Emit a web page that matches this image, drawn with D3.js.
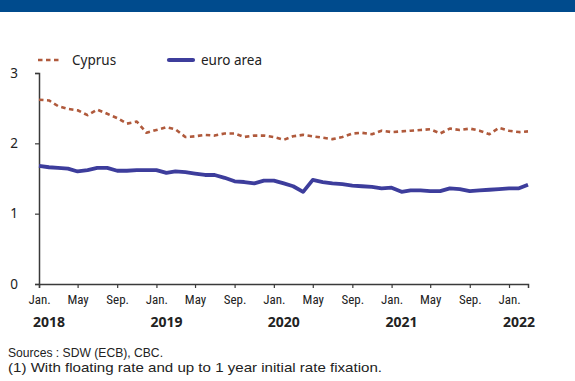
<!DOCTYPE html>
<html>
<head>
<meta charset="utf-8">
<script src="https://cdn.jsdelivr.net/npm/d3@7/dist/d3.min.js"></script>
<style>
  html, body { margin: 0; padding: 0; background: #fff; }
  svg { display: block; }
</style>
</head>
<body>
<svg id="chart" width="575" height="381"></svg>
<script>
// Monthly observations, Jan. 2018 – Mar. 2022 (%)
const months = d3.range(51).map(i => new Date(2018, i, 1));
const cyprus = [
  2.62, 2.61, 2.53, 2.49, 2.47, 2.40, 2.48, 2.42, 2.36, 2.28, 2.31, 2.15,
  2.19, 2.23, 2.20, 2.09, 2.10, 2.12, 2.11, 2.14, 2.14, 2.09, 2.11, 2.11,
  2.09, 2.05, 2.10, 2.12, 2.10, 2.08, 2.06, 2.09, 2.14, 2.15, 2.13, 2.18,
  2.16, 2.17, 2.18, 2.19, 2.20, 2.14, 2.21, 2.19, 2.21, 2.18, 2.13, 2.22,
  2.18, 2.16, 2.17
];
const euroArea = [
  1.68, 1.66, 1.65, 1.64, 1.60, 1.62, 1.65, 1.65, 1.61, 1.61, 1.62, 1.62,
  1.62, 1.58, 1.60, 1.59, 1.57, 1.55, 1.55, 1.51, 1.46, 1.45, 1.43, 1.47,
  1.47, 1.43, 1.39, 1.31, 1.48, 1.45, 1.43, 1.42, 1.40, 1.39, 1.38, 1.36,
  1.37, 1.31, 1.33, 1.33, 1.32, 1.32, 1.36, 1.35, 1.32, 1.33, 1.34, 1.35,
  1.36, 1.36, 1.41
];
const yTicks = [0, 1, 2, 3];
const monthTickLabels = ["Jan.", "May", "Sep."];
const yearLabels = ["2018", "2019", "2020", "2021", "2022"];
const seriesNames = ["Cyprus", "euro area"];
const notes = [
  "Sources : SDW (ECB), CBC.",
  "(1) With floating rate and up to 1 year initial rate fixation."
];

const svg = d3.select("#chart");
const colCyprus = "#b05a3c";
const colEuro = "#3d3d9c";
const axisCol = "#3a3a3a";
const condensed = "'Liberation Sans Narrow', 'Roboto Condensed', 'Noto Sans', sans-serif";
const body = "'Noto Sans', 'Open Sans', sans-serif";
const plain = "'Liberation Sans', Arial, sans-serif";

// header band
svg.append("rect").attr("x", 0).attr("y", 0).attr("width", 575).attr("height", 12)
  .attr("fill", "#004b8d");

const x = d3.scaleTime()
  .domain([new Date(2018, 0, 1), new Date(2022, 2, 1)])
  .range([39, 528]);
const y = d3.scaleLinear().domain([0, 3]).range([284, 73]);

// y axis
const yAxis = svg.append("g").attr("transform", "translate(39,0)")
  .call(d3.axisLeft(y).tickValues(yTicks).tickFormat(d3.format("d")).tickSizeOuter(0).tickSize(4).tickPadding(17));
yAxis.select(".domain").attr("stroke", axisCol).attr("stroke-width", 1.5);
yAxis.selectAll(".tick line").attr("stroke", axisCol).attr("stroke-width", 1.2);
yAxis.selectAll(".tick text").attr("font-family", body).attr("font-size", 13.5).attr("fill", "#222");

// x axis: Jan., May, Sep. ticks
const tickDates = months.filter(d => d.getMonth() % 4 === 0);
const xAxis = svg.append("g").attr("transform", "translate(0,284)")
  .call(d3.axisBottom(x).tickValues(tickDates)
    .tickFormat(d => monthTickLabels[d.getMonth() / 4])
    .tickSizeOuter(0).tickSize(4).tickPadding(7));
xAxis.select(".domain").attr("stroke", axisCol).attr("stroke-width", 1.5);
xAxis.selectAll(".tick line").attr("stroke", axisCol).attr("stroke-width", 1.2);
xAxis.selectAll(".tick text").attr("font-family", condensed).attr("font-size", 13).attr("fill", "#222");

// year labels
svg.append("g").selectAll("text").data(yearLabels).join("text")
  .attr("x", d => x(new Date(+d, 0, 1)) + 10)
  .attr("y", 327)
  .attr("text-anchor", "middle")
  .attr("font-family", body)
  .attr("font-weight", "bold")
  .attr("font-size", 14)
  .attr("fill", "#222")
  .text(d => d);

// series lines
const line = d3.line().x((d, i) => x(months[i])).y(d => y(d)).curve(d3.curveLinear);

svg.append("path").datum(euroArea)
  .attr("d", line).attr("fill", "none")
  .attr("stroke", colEuro).attr("stroke-width", 3.8)
  .attr("stroke-linejoin", "round");

svg.append("path").datum(cyprus)
  .attr("d", line).attr("fill", "none")
  .attr("stroke", colCyprus).attr("stroke-width", 2.6)
  .attr("stroke-dasharray", "4.5,3.5")
  .attr("stroke-linejoin", "round");

// legend
const legend = svg.append("g");
legend.append("line").attr("x1", 38).attr("x2", 62).attr("y1", 60).attr("y2", 60)
  .attr("stroke", colCyprus).attr("stroke-width", 2.6).attr("stroke-dasharray", "4.5,3.5");
legend.append("text").attr("x", 72).attr("y", 64.5).text(seriesNames[0]);
legend.append("line").attr("x1", 169).attr("x2", 193).attr("y1", 60).attr("y2", 60)
  .attr("stroke", colEuro).attr("stroke-width", 4.2).attr("stroke-linecap", "round");
legend.append("text").attr("x", 201).attr("y", 64.5).text(seriesNames[1]);
legend.selectAll("text").attr("font-family", body).attr("font-size", 13.5).attr("fill", "#222");

// notes, stretched to the page's text width
const noteWidths = [155, 374];
svg.append("g").selectAll("text").data(notes).join("text")
  .attr("x", 8).attr("y", (d, i) => 357 + i * 15)
  .attr("font-family", plain).attr("font-size", 13).attr("fill", "#222")
  .attr("textLength", (d, i) => noteWidths[i])
  .attr("lengthAdjust", "spacingAndGlyphs")
  .text(d => d);
</script>
</body>
</html>
